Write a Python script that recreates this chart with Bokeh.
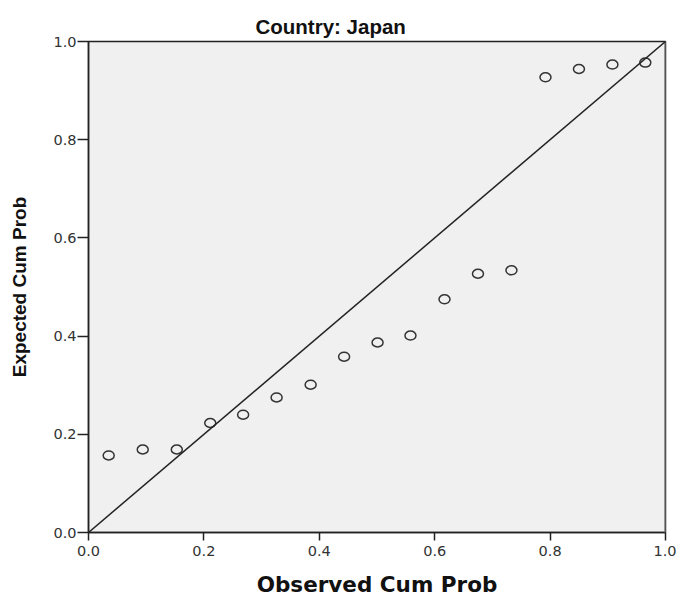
from bokeh.plotting import figure
from bokeh.models import Span, FixedTicker, Slope
from bokeh.embed import file_html
from bokeh.resources import INLINE

title_text = "Country: Japan"
x_label = "Observed Cum Prob"
y_label = "Expected Cum Prob"

observed = [0.035, 0.094, 0.153, 0.211, 0.268, 0.326, 0.385, 0.443, 0.501,
            0.558, 0.617, 0.675, 0.733, 0.792, 0.850, 0.908, 0.965]
expected = [0.157, 0.169, 0.169, 0.223, 0.240, 0.275, 0.301, 0.358, 0.387,
            0.401, 0.475, 0.527, 0.534, 0.927, 0.944, 0.953, 0.957]
ticks = [0.0, 0.2, 0.4, 0.6, 0.8, 1.0]

p = figure(width=676, height=596, output_backend="svg", toolbar_location=None,
           x_range=(0, 1), y_range=(0, 1), frame_width=577, frame_height=491,
           min_border_left=88, min_border_top=41, min_border_right=11, min_border_bottom=64,
           title=title_text)
p.title.align = "left"
p.title.offset = 167
p.title.standoff = 8
p.title.text_font = "Liberation Sans"
p.title.text_font_style = "bold"
p.title.text_font_size = "20.5px"
p.title.text_color = "#111111"

p.background_fill_color = "#f0f0f0"
p.border_fill_color = "white"
p.outline_line_color = "#222222"
p.outline_line_width = 1.5
p.grid.visible = False

for ax in (p.xaxis[0], p.yaxis[0]):
    ax.ticker = FixedTicker(ticks=ticks)
    ax.major_label_overrides = {t: f"{t:.1f}" for t in ticks}
    ax.axis_line_color = "#222222"
    ax.axis_line_width = 1.5
    ax.major_tick_line_color = "#222222"
    ax.major_tick_line_width = 1.5
    ax.minor_tick_line_color = None
    ax.major_tick_in = 0
    ax.major_label_text_font = "DejaVu Sans"
    ax.major_label_text_font_size = "14.5px"
    ax.major_label_text_color = "#333333"

p.xaxis.major_tick_out = 8
p.yaxis.major_tick_out = 11
p.xaxis.major_label_standoff = 5
p.yaxis.major_label_standoff = 1

p.xaxis.axis_label = x_label
p.xaxis.axis_label_text_font = "DejaVu Sans"
p.xaxis.axis_label_text_font_style = "bold"
p.xaxis.axis_label_text_font_size = "21.5px"
p.xaxis.axis_label_text_color = "#111111"
p.xaxis.axis_label_standoff = 13

p.yaxis.axis_label = y_label
p.yaxis.axis_label_text_font = "Liberation Sans"
p.yaxis.axis_label_text_font_style = "bold"
p.yaxis.axis_label_text_font_size = "19px"
p.yaxis.axis_label_text_color = "#111111"
p.yaxis.axis_label_standoff = 20

p.add_layout(Span(location=1, dimension="height", line_color="#888888", line_width=2.5))
p.add_layout(Slope(gradient=1, y_intercept=0, line_color="#222222", line_width=1.5))

p.ellipse(x=observed, y=expected, width=11, height=9, width_units="screen",
          height_units="screen", fill_color=None, line_color="#333333", line_width=1.5)

open("out.html", "w").write(file_html(p, INLINE))
